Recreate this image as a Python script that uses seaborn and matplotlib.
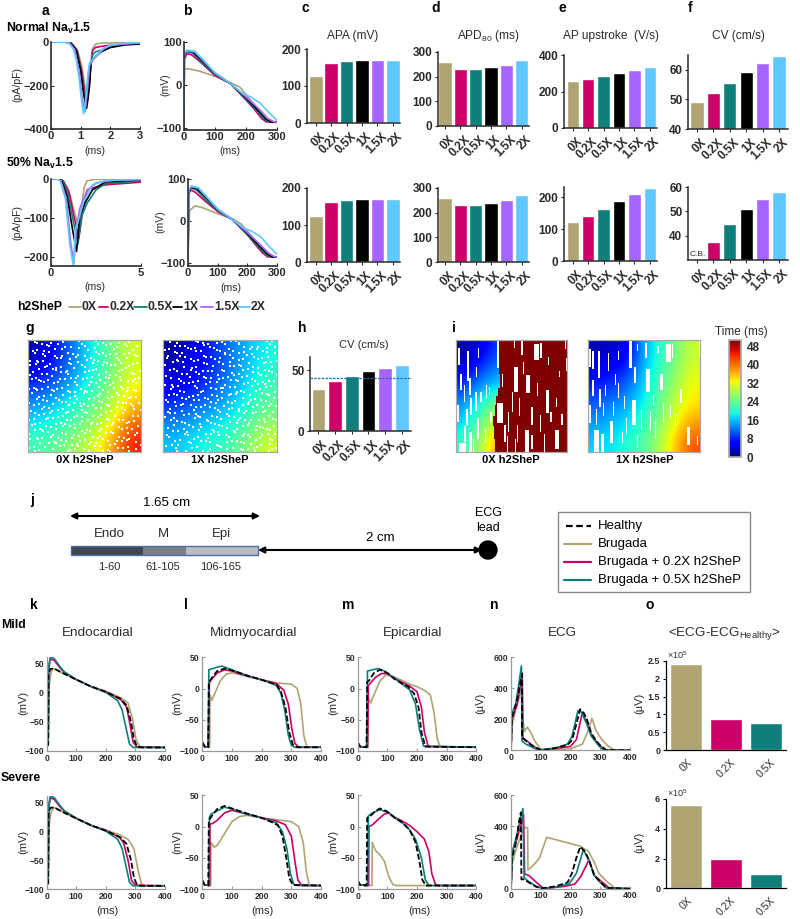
import numpy as np
import matplotlib
matplotlib.use('Agg')
import matplotlib.pyplot as plt
from matplotlib.cm import ScalarMappable
from matplotlib.colors import Normalize
from matplotlib.patches import Rectangle, Ellipse
from matplotlib.transforms import ScaledTranslation
import seaborn as sns

# --- bar data ---
DOSES = ['0X', '0.2X', '0.5X', '1X', '1.5X', '2X']
COLORS = ['#B0A472', '#CC0066', '#0F7F7C', '#000000', '#A864FF', '#5EC8FF']

APA_NORMAL = [128, 162, 168, 170, 171, 171]
APA_HALF = [124, 162, 168, 170, 171, 171]
APD_NORMAL = [258, 230, 232, 240, 248, 267]
APD_HALF = [260, 233, 233, 240, 252, 272]
UPSTROKE_NORMAL = [256, 271, 284, 302, 320, 335]
UPSTROKE_HALF = [123, 142, 163, 189, 212, 231]
CV_NORMAL = [49, 52.3, 55.5, 59.3, 62.3, 64.5]
CV_HALF = [np.nan, 37.4, 44.8, 51, 55, 58]
CV_TISSUE = [34.3, 41, 45, 49, 52, 54.3]
CV_TISSUE_REF = 43.8

ECG_DOSES = ['0X', '0.2X', '0.5X']
ECG_COLORS = COLORS[:3]
ECG_DIFF_MILD = [2.416, 0.864, 0.762]
ECG_DIFF_SEVERE = [5.6, 1.97, 0.985]

# --- panel a: sodium current, (ms, pA/pF) ---
A_TOP_0X = [(0, 0), (.5, 0), (.7, -5), (.9, -40), (1.05, -120), (1.2, -250), (1.25, -265), (1.33, -120), (1.4, -30), (1.5, -10), (1.7, -5), (3, -2)]
A_TOP_02X = [(0, 0), (.48, 0), (.68, -5), (.88, -40), (1.03, -130), (1.17, -260), (1.22, -285), (1.33, -130), (1.4, -40), (1.5, -25), (1.7, -20), (2, -15), (3, -6)]
A_TOP_05X = [(0, 0), (.46, 0), (.66, -5), (.86, -38), (1.01, -130), (1.15, -270), (1.2, -295), (1.32, -130), (1.4, -60), (1.5, -45), (1.7, -38), (2, -25), (2.5, -14), (3, -10)]
A_TOP_1X = [(0, 0), (.45, 0), (.65, -5), (.85, -35), (1, -130), (1.1, -240), (1.2, -305), (1.3, -200), (1.35, -90), (1.5, -65), (1.7, -45), (2, -25), (2.5, -12), (3, -8)]
A_TOP_15X = [(0, 0), (.42, 0), (.62, -5), (.8, -35), (.95, -140), (1.05, -260), (1.15, -320), (1.22, -230), (1.3, -110), (1.4, -85), (1.6, -55), (1.8, -30), (2, -15), (3, -4)]
A_TOP_2X = [(0, 0), (.4, 0), (.6, -5), (.75, -30), (.85, -80), (.95, -170), (1.05, -290), (1.1, -330), (1.15, -290), (1.25, -140), (1.3, -95), (1.5, -65), (1.75, -30), (2, -15), (2.5, -5), (3, -3)]

A_BOT_0X = [(0, 0), (.45, 0), (.7, -5), (1, -30), (1.3, -85), (1.55, -125), (1.7, -70), (1.85, -20), (2, -5), (2.4, -1), (5, 0)]
A_BOT_02X = [(0, 0), (.42, 0), (.68, -5), (1, -35), (1.3, -100), (1.55, -150), (1.75, -85), (2, -28), (2.3, -23), (3, -15), (5, -8)]
A_BOT_05X = [(0, 0), (.4, 0), (.65, -5), (.95, -40), (1.25, -110), (1.5, -165), (1.7, -95), (2, -62), (2.5, -28), (3, -12), (5, -5)]
A_BOT_1X = [(0, 0), (.38, 0), (.6, -5), (.9, -45), (1.2, -130), (1.42, -185), (1.6, -95), (1.9, -60), (2.3, -28), (3, -8), (5, -2)]
A_BOT_15X = [(0, 0), (.35, 0), (.55, -5), (.85, -50), (1.1, -165), (1.27, -215), (1.4, -130), (1.6, -75), (2, -30), (2.5, -10), (3.5, -3), (5, -1)]
A_BOT_2X = [(0, 0), (.33, 0), (.52, -5), (.8, -50), (1.05, -170), (1.25, -222), (1.35, -130), (1.5, -110), (1.8, -60), (2.3, -15), (3, -4), (5, -1)]

# --- panel b: action potential, (ms, mV) ---
B_TOP_0X = [(0, -90), (1, 38), (20, 37), (50, 32), (100, 20), (150, 5), (180, -5), (200, -22), (225, -45), (250, -70), (270, -85), (300, -87)]
B_TOP_02X = [(0, -90), (1, 60), (10, 73), (25, 70), (50, 55), (100, 22), (150, 3), (200, -35), (225, -55), (250, -78), (265, -86), (300, -87)]
B_TOP_05X = [(0, -90), (1, 70), (10, 78), (30, 73), (60, 50), (100, 25), (150, 3), (200, -33), (230, -55), (255, -78), (275, -86), (300, -87)]
B_TOP_1X = [(0, -90), (1, 72), (10, 80), (30, 77), (60, 55), (100, 27), (150, 3), (200, -30), (240, -60), (265, -80), (285, -87), (300, -87)]
B_TOP_15X = [(0, -90), (1, 73), (10, 80), (35, 77), (60, 58), (100, 28), (150, 3), (200, -28), (245, -58), (270, -78), (290, -86), (300, -87)]
B_TOP_2X = [(0, -90), (1, 75), (12, 81), (35, 78), (60, 60), (100, 28), (150, 3), (190, -20), (215, -28), (245, -42), (275, -65), (300, -83)]

B_BOT_0X = [(0, -90), (5, 25), (25, 36), (50, 31), (100, 17), (150, 5), (180, -8), (200, -25), (225, -45), (250, -68), (270, -84), (300, -87)]
B_BOT_02X = [(0, -90), (2, 60), (8, 74), (25, 68), (50, 52), (100, 22), (150, 3), (200, -33), (225, -55), (250, -76), (268, -86), (300, -87)]
B_BOT_05X = [(0, -90), (2, 70), (10, 79), (30, 73), (60, 50), (100, 25), (150, 3), (200, -33), (230, -56), (258, -78), (278, -86), (300, -87)]
B_BOT_1X = [(0, -90), (2, 72), (10, 80), (30, 77), (60, 56), (100, 27), (150, 3), (200, -30), (240, -60), (265, -78), (285, -87), (300, -87)]
B_BOT_15X = [(0, -90), (2, 73), (10, 82), (35, 78), (60, 59), (100, 28), (150, 3), (200, -28), (245, -58), (270, -76), (292, -86), (300, -87)]
B_BOT_2X = [(0, -90), (2, 75), (12, 83), (35, 79), (60, 60), (100, 28), (150, 3), (190, -18), (215, -25), (245, -38), (275, -62), (300, -80)]

# --- panels k-n: transmural wedge traces, (ms, mV or uV) ---
K_MILD_H = [(0, -90), (5, -90), (6, 30), (12, 40), (25, 41), (50, 34), (100, 22), (150, 10), (200, 1), (250, -11), (270, -22), (285, -50), (295, -80), (305, -92), (320, -94), (400, -94)]
K_MILD_B = [(0, -90), (5, -90), (8, 10), (15, 35), (22, 41), (50, 34), (100, 22), (150, 10), (200, 2), (250, -9), (275, -18), (290, -45), (302, -80), (315, -93), (400, -94)]
K_MILD_02 = [(0, -90), (5, -90), (7, 40), (12, 57), (25, 55), (45, 42), (60, 34), (100, 22), (150, 10), (200, 1), (250, -12), (270, -25), (282, -55), (292, -85), (305, -93), (400, -94)]
K_MILD_05 = [(0, -90), (5, -90), (7, 45), (12, 60), (25, 58), (45, 44), (60, 35), (100, 22), (150, 10), (200, 0), (240, -14), (255, -30), (268, -60), (280, -88), (292, -94), (400, -94)]
K_SEV_H = K_MILD_H
K_SEV_B = [(0, -90), (5, -90), (8, 10), (15, 33), (25, 41), (50, 34), (100, 22), (150, 10), (200, 2), (250, -7), (275, -14), (295, -30), (308, -65), (320, -90), (330, -94), (400, -94)]
K_SEV_02 = [(0, -90), (5, -90), (7, 40), (12, 57), (25, 55), (45, 42), (60, 34), (100, 22), (150, 10), (200, 1), (245, -10), (260, -20), (275, -50), (287, -85), (300, -93), (400, -94)]
K_SEV_05 = K_MILD_05

L_MILD_H = [(0, -86), (8, -93), (20, -94), (22, 10), (32, 17), (50, 28), (75, 32), (100, 29), (150, 21), (200, 14), (250, 6), (265, -5), (280, -30), (293, -70), (305, -90), (320, -94), (400, -94)]
L_MILD_B = [(0, -86), (8, -93), (25, -94), (26, -10), (32, -19), (45, -5), (60, 12), (80, 23), (100, 25), (150, 20), (200, 14), (250, 9), (300, 7), (320, 0), (332, -25), (342, -75), (352, -93), (365, -94), (400, -94)]
L_MILD_02 = [(0, -86), (8, -93), (20, -94), (24, 10), (32, 15), (50, 25), (75, 30), (100, 28), (150, 20), (200, 14), (250, 8), (275, -3), (290, -25), (302, -65), (312, -88), (325, -94), (400, -94)]
L_MILD_05 = [(0, -86), (8, -93), (20, -94), (22, 30), (35, 32), (65, 36), (100, 30), (150, 21), (200, 14), (250, 5), (265, -8), (278, -35), (290, -75), (300, -91), (312, -94), (400, -94)]
L_SEV_H = [(0, -86), (8, -93), (20, -94), (22, 10), (32, 17), (50, 28), (75, 33), (100, 29), (150, 21), (200, 14), (240, 6), (255, 2), (270, -15), (283, -50), (293, -82), (305, -93), (400, -94)]
L_SEV_B = [(0, -86), (8, -93), (28, -94), (29, -25), (40, -33), (50, -30), (70, -15), (100, 8), (125, 16), (150, 18), (200, 14), (250, 11), (300, 8), (325, 0), (340, -25), (350, -70), (360, -93), (370, -94), (400, -94)]
L_SEV_02 = [(0, -86), (8, -93), (25, -94), (26, 4), (35, 5), (50, 10), (75, 22), (100, 26), (150, 20), (200, 14), (250, 9), (280, 3), (300, -15), (312, -55), (322, -85), (335, -94), (400, -94)]
L_SEV_05 = [(0, -86), (8, -93), (22, -94), (24, 15), (30, 20), (50, 25), (75, 31), (100, 28), (150, 20), (200, 14), (250, 6), (270, -8), (285, -35), (297, -75), (308, -92), (320, -94), (400, -94)]

M_MILD_H = [(0, -86), (8, -93), (30, -94), (32, 10), (40, 14), (55, 25), (75, 30), (100, 25), (125, 15), (150, 8), (170, 3), (190, -8), (205, -30), (215, -70), (228, -93), (400, -94)]
M_MILD_B = [(0, -86), (8, -93), (35, -94), (36, -15), (44, -23), (55, -10), (75, 12), (95, 22), (125, 18), (150, 13), (175, 7), (200, 3), (225, -3), (245, -10), (258, -40), (268, -80), (278, -93), (400, -94)]
M_MILD_02 = [(0, -86), (8, -93), (33, -94), (36, 5), (45, 10), (60, 18), (80, 24), (100, 24), (125, 16), (150, 10), (175, 4), (200, -5), (215, -30), (225, -70), (238, -93), (400, -94)]
M_MILD_05 = [(0, -86), (8, -93), (30, -94), (33, 28), (50, 30), (70, 32), (90, 28), (125, 16), (150, 7), (175, -2), (195, -25), (208, -65), (222, -92), (400, -94)]
M_SEV_H = [(0, -86), (8, -93), (30, -94), (32, 14), (45, 18), (60, 25), (75, 29), (100, 24), (125, 14), (150, 7), (175, -5), (195, -25), (208, -55), (218, -85), (230, -94), (400, -94)]
M_SEV_B = [(0, -86), (8, -93), (48, -94), (49, -25), (60, -38), (75, -45), (90, -55), (105, -80), (118, -92), (130, -94), (400, -94)]
M_SEV_02 = [(0, -86), (8, -93), (37, -94), (38, 0), (50, 3), (70, 12), (90, 20), (105, 22), (125, 15), (150, 9), (175, 2), (200, -8), (225, -20), (240, -40), (250, -75), (262, -92), (272, -94), (400, -94)]
M_SEV_05 = [(0, -86), (8, -93), (33, -94), (36, 17), (50, 22), (75, 27), (100, 23), (125, 14), (150, 6), (175, -5), (195, -20), (215, -50), (228, -85), (240, -94), (400, -94)]

N_MILD_H = [(0, 0), (3, 200), (10, 260), (20, 320), (30, 420), (37, 490), (37, 80), (45, 70), (60, 45), (80, 20), (100, 2), (120, 5), (150, 15), (190, 35), (205, 65), (220, 170), (232, 265), (245, 240), (255, 200), (270, 110), (285, 65), (300, 30), (320, 3), (400, 0)]
N_MILD_B = [(0, 0), (5, 180), (15, 260), (28, 340), (37, 420), (40, 220), (44, 120), (55, 150), (65, 120), (80, 60), (100, 5), (130, 2), (200, 10), (240, 40), (258, 120), (272, 205), (285, 130), (305, 70), (325, 30), (345, 3), (400, 0)]
N_MILD_02 = [(0, 0), (3, 200), (20, 290), (35, 460), (38, 500), (40, 80), (60, 50), (80, 20), (100, 2), (150, 12), (200, 25), (220, 70), (240, 245), (255, 180), (270, 100), (290, 50), (310, 10), (320, 2), (400, 0)]
N_MILD_05 = [(0, 0), (3, 240), (15, 290), (28, 450), (35, 545), (37, 60), (50, 40), (75, 15), (95, 2), (150, 15), (190, 40), (205, 90), (225, 255), (235, 250), (255, 170), (270, 90), (295, 30), (310, 3), (400, 0)]
N_SEV_H = [(0, 0), (3, 200), (15, 280), (28, 440), (33, 490), (35, 60), (45, 60), (60, 40), (85, 12), (105, 3), (150, 15), (190, 40), (205, 100), (220, 200), (233, 270), (250, 235), (265, 170), (280, 85), (300, 45), (320, 5), (400, 0)]
N_SEV_B = [(0, 0), (5, 170), (15, 240), (35, 350), (48, 395), (56, 390), (57, 120), (75, 150), (95, 195), (120, 330), (180, 300), (230, 275), (260, 240), (280, 170), (295, 100), (320, 50), (345, 10), (360, 0), (400, 0)]
N_SEV_02 = [(0, 0), (5, 240), (20, 320), (38, 440), (42, 475), (46, 95), (60, 85), (80, 50), (105, 8), (120, 2), (180, 15), (215, 30), (235, 80), (262, 185), (280, 85), (305, 45), (330, 5), (400, 0)]
N_SEV_05 = [(0, 0), (5, 240), (20, 350), (32, 450), (40, 515), (44, 70), (60, 45), (85, 15), (105, 2), (150, 10), (195, 30), (220, 100), (243, 250), (260, 190), (280, 85), (300, 40), (320, 5), (400, 0)]

# --- activation maps: coarse readings of time (ms), top row first ---
MAP_G_0X = [[2, 7, 13, 19, 25, 31], [5, 9, 14, 19, 25, 31], [9, 12, 16, 21, 27, 33],
            [14, 17, 20, 24, 29, 36], [18, 20, 23, 27, 33, 41], [22, 24, 27, 31, 37, 45]]
MAP_G_1X = [[1, 4, 8, 12, 16, 19], [3, 5, 8, 12, 16, 20], [5, 7, 10, 14, 18, 22],
            [9, 11, 13, 16, 20, 24], [13, 15, 17, 19, 23, 27], [16, 18, 20, 22, 26, 31]]
MAP_I_0X = [[1, 3, 6, 9], [4, 7, 10, 13], [9, 12, 15, 17], [14, 18, 22, 26], [17, 21, 26, 31], [21, 25, 31, 38]]
MAP_I_1X = [[2, 3, 5, 15, 20, 25, 30], [5, 6, 8, 16, 21, 26, 31], [8, 9, 12, 17, 23, 28, 33],
            [11, 13, 15, 19, 24, 30, 34], [14, 16, 18, 21, 26, 33, 38], [17, 18, 20, 23, 28, 36, 42]]
# edge of the blocked region in i (0X): percent down the map, percent across
BLOCK_Y = [0, 22, 30, 43, 50, 58, 68, 77, 88, 100]
BLOCK_X = [38, 39, 40, 38, 36, 35, 33, 34, 35, 34]

# white unexcited specks in g, one mask cell per speck
SPECKS = [
    '..##.....#..#.##.....#......##.#......#...#.....',
    '#.....#.##........#....##........#.#.....##...#.',
    '...#.......#..##.....#...#..#.......##......#...',
    '.##...#.#.......#.#.........##.#..#.....#.#.....',
    '......##...##.#.....##..#........#...#.......##.',
    '#..#.........#...#......#.##.#.......##..#......',
    '...##.#..#.......##..#.....#....##.....#....#.#.',
    '.#.....##...#.#........##.......#..#.#.....#....',
    '....#.....##....#..#.....#.##.........##.#.....#',
    '##...#.#.....#.##......#.....#..#.#........##...',
    '...#......#.......#.##...#.#.....##..#.#.......#',
    '.#..##..#...##.#.......#......#........#..#.##..',
    '......#...#.....#..##....##.#...#.##.........#..',
    '#.##....#...#.#.......#.......#.....#..##.#.....',
    '....#.#...##.....##.#...##.#....#.#.......#..##.',
    '.#.......#....#........#.....##......##.#.......',
    '...##.#....#.....#.##....#.#.....#.#......##.#..',
    '#.....#.#....##.#.....#.......##......#.#......#',
    '..#.#.....#......#.#..##.#.#.....##......#.##...',
    '.....##.#...#.#.......#.....#.#......#.#....#..#',
    '.#.#.....##.....##.#....##.......#.#....##......',
    '....#.#.....#.#.....#.#....#.##.....#.......#.#.',
    '#.#....##.#.....#.##.....#.......##...#.#.......',
    '...#.#......#.#.......##...#.#.#....#.....##.#..',
    '.#.....#.#....##.#.#......#......#.#..#.......#.',
    '..#.##.....#.......#..#.#....##........#.#.#....',
    '#.....#.#.....#.#.......#.#......#.##.....#...#.',
    '...#.....##.#.....##.#.....#.##.......#.#....#..',
    '.#..#.#.......#.#.....#.#.......#.#.....#.##....',
    '....#...#.##......#.#....##.#.....#.##.......#.#',
    '#.#....#.....#.#.....#......#.#.......#.#.#.....',
    '..#.#.....#.....##.#...#.#.....#.##.......#..#..',
]
# how far each mask column and row sits off its grid line, in cells
SPECK_DROP = [.4, -.3, .1, .45, -.2, .3, -.45, .2, -.1, .35, -.35, .05, .5, -.25, .15, -.5,
              .3, -.05, .4, -.4, .25, -.15, .45, -.3, .1, .35, -.45, .2, -.2, .5, -.1, .3,
              -.35, .05, .4, -.25, .15, -.5, .35, -.05, .45, -.4, .2, -.15, .3, -.3, .1, .4]
SPECK_SLIDE = [.3, -.4, .15, .45, -.2, .35, -.1, -.45, .25, .5, -.3, .05, .4, -.15, -.5, .2,
               .35, -.25, .1, .45, -.35, .3, -.05, -.4, .25, .5, -.2, .15, -.45, .4, -.1, .3]

# white stripes in i: percent across, top, bottom, width
STRIPES_0X = [(2, 7, 22, 1.5), (10, 10, 37, 1.5), (20, 7, 16, 1), (18, 24, 33, 1), (4, 30, 45, 1.5), (12, 34, 49, 1.5),
              (7, 40, 55, 1), (17, 46, 63, 1.5), (22, 46, 55, 1), (1, 58, 73, 2), (13, 52, 67, 1.5), (27, 40, 52, 1),
              (9, 62, 76, 1.5), (19, 70, 88, 2), (26, 79, 91, 1), (30, 42, 49, 1), (3, 92, 100, 6), (12, 82, 100, 2),
              (15, 88, 100, 1.5), (7, 77, 91, 2), (31, 64, 73, 1), (37, 0, 25, 2), (37, 56, 74, 5), (43, 76, 91, 2),
              (52, 24, 46, 4), (52, 0, 7, 1.5), (59, 0, 13, 1.5), (63, 31, 47, 3.5), (70, 4, 18, 5), (76, 3, 16, 1.5),
              (83, 15, 22, 1), (99, 16, 28, 2), (89, 80, 97, 4), (62, 80, 100, 3.5), (81, 45, 65, 3), (76, 67, 82, 1),
              (68, 60, 76, 1), (50, 46, 64, 1), (55, 76, 91, 1), (47, 64, 82, 1), (68, 85, 97, 1.5), (85, 64, 73, 1.5),
              (93, 28, 33, 1), (92, 85, 96, 1), (98, 0, 8, 1), (41, 30, 42, 1), (57, 52, 68, 1), (73, 38, 50, 1),
              (90, 52, 60, 1), (79, 84, 100, 1), (53, 88, 100, 1), (46, 86, 100, 1), (95, 66, 76, 1), (60, 20, 30, 1)]
STRIPES_1X = [(1, 8, 24, 1.5), (4, 10, 26, 1.5), (9, 10, 34, 1.5), (18, 12, 28, 1), (27, 10, 18, 1), (37, 0, 25, 2),
              (41, 24, 38, 2), (44, 4, 10, 1), (51, 3, 16, 1.5), (52, 26, 46, 3.5), (62, 5, 12, 1), (70, 4, 20, 4),
              (64, 30, 45, 3), (75, 4, 16, 1), (99, 0, 14, 1), (82, 44, 56, 1.5), (4, 36, 50, 1), (10, 44, 60, 1.5),
              (15, 40, 50, 1), (27, 38, 52, 1), (32, 50, 62, 1), (22, 55, 68, 1.5), (1, 58, 74, 2), (13, 56, 68, 1.5),
              (39, 54, 76, 4), (47, 62, 80, 1), (55, 64, 80, 1), (73, 58, 70, 1), (67, 56, 74, 1), (88, 78, 94, 3),
              (5, 80, 100, 5), (12, 84, 100, 2), (20, 72, 92, 2), (30, 82, 92, 1), (60, 72, 88, 1), (97, 86, 94, 1.5),
              (24, 30, 40, 1), (34, 70, 84, 1), (7, 62, 76, 1), (44, 84, 96, 1), (78, 66, 76, 1), (58, 48, 58, 1)]

LEGEND_ROWS = ['Healthy', 'Brugada', 'Brugada + 0.2X h2SheP', 'Brugada + 0.5X h2SheP']

# --- style ---
W, H = 800, 919
sns.set_theme(style='ticks')
plt.rcParams['font.family'] = ['Liberation Sans', 'DejaVu Sans']
plt.rcParams['mathtext.fontset'] = 'custom'
plt.rcParams['mathtext.rm'] = 'Liberation Sans'
plt.rcParams['mathtext.it'] = 'Liberation Sans:italic'
plt.rcParams['mathtext.bf'] = 'Liberation Sans:bold'
plt.rcParams['mathtext.default'] = 'regular'
DARK = '#2b2b2b'

fig = plt.figure(figsize=(W / 100, H / 100), dpi=100)
# overlay in picture pixels, for free text and the tissue sketch
page = fig.add_axes([0, 0, 1, 1], zorder=10)
page.set_xlim(0, W)
page.set_ylim(H, 0)
page.axis('off')


def place(left, top, right, bottom):
    return fig.add_axes([left / W, 1 - bottom / H, (right - left) / W, (bottom - top) / H])


def note(x, y, text, size=8, weight='normal', ha='center', **kw):
    page.text(x, y, text, fontsize=size, fontweight=weight, ha=ha, va='center', color=kw.pop('color', 'black'), **kw)


def style_axis(ax, size, spine_color=DARK, spine_width=1.2, direction='out'):
    sns.despine(ax=ax)
    for side in ('left', 'bottom'):
        ax.spines[side].set_color(spine_color)
        ax.spines[side].set_linewidth(spine_width)
    ax.tick_params(labelsize=size, length=2.5, width=0.8, pad=1.5, color=spine_color,
                   labelcolor=DARK, direction=direction)
    for lab in ax.get_xticklabels() + ax.get_yticklabels():
        lab.set_fontweight('bold')


def draw_traces(ax, traces, colors, lw=1.2):
    for points, color in zip(traces, colors):
        t, v = zip(*points)
        sns.lineplot(x=list(t), y=list(v), color=color, linewidth=lw, sort=False,
                     estimator=None, ax=ax, legend=False)
    ax.set_xlabel('')
    ax.set_ylabel('')


def current_panel(box, traces, xlim, ylim, xticks, yticks, size=8, direction='in'):
    ax = place(*box)
    draw_traces(ax, traces, COLORS)
    ax.set_xlim(*xlim)
    ax.set_ylim(*ylim)
    ax.set_xticks(xticks)
    ax.set_yticks(yticks)
    style_axis(ax, size, direction=direction)
    return ax


def bar_panel(box, values, ylim, yticks, xlim=(-0.57, 5.47), size=8.5, width=0.82):
    ax = place(*box)
    sns.barplot(x=DOSES, y=values, order=DOSES, hue=DOSES, hue_order=DOSES, palette=COLORS,
                width=width, saturation=1, dodge=False, legend=False, ax=ax)
    ax.set_xlim(*xlim)
    ax.set_ylim(*ylim)
    ax.set_yticks(yticks)
    style_axis(ax, size, spine_width=1.1)
    ax.set_xticks(range(len(DOSES)))
    ax.set_xticklabels(DOSES, rotation=45, ha='right', va='top', rotation_mode='anchor',
                       fontsize=size, fontweight='bold', color=DARK)
    ax.tick_params(axis='x', pad=3)
    # the labels end a little to the right of their ticks
    shift = ScaledTranslation(3.5 / 100, 0, fig.dpi_scale_trans)
    for lab in ax.get_xticklabels():
        lab.set_transform(lab.get_transform() + shift)
    return ax


# --- a, b ---
a_top = [A_TOP_0X, A_TOP_02X, A_TOP_05X, A_TOP_1X, A_TOP_15X, A_TOP_2X]
a_bot = [A_BOT_0X, A_BOT_02X, A_BOT_05X, A_BOT_1X, A_BOT_15X, A_BOT_2X]
b_top = [B_TOP_0X, B_TOP_02X, B_TOP_05X, B_TOP_1X, B_TOP_15X, B_TOP_2X]
b_bot = [B_BOT_0X, B_BOT_02X, B_BOT_05X, B_BOT_1X, B_BOT_15X, B_BOT_2X]
current_panel((51, 42, 140, 129), a_top, (0, 3), (-400, 0), [0, 1, 2, 3], [0, -200, -400])
current_panel((51, 179, 141, 266), a_bot, (0, 5), (-222, 0), [0, 5], [0, -100, -200])
current_panel((184, 42, 277, 130), b_top, (0, 300), (-105, 100), [0, 100, 200, 300], [100, 0, -100])
current_panel((188, 179, 277, 266), b_bot, (0, 300), (-108, 100), [0, 100, 200, 300], [100, 0, -100])

for x, y, text, rot in [(17, 85, '(pA/pF)', 90), (95, 151, '(ms)', 0), (17, 222, '(pA/pF)', 90), (95, 287, '(ms)', 0),
                        (165, 85, '(mV)', 90), (230, 151, '(ms)', 0), (160, 222, '(mV)', 90), (231, 288, '(ms)', 0)]:
    note(x, y, text, size=7.6, rotation=rot, color=DARK)

# --- c-f ---
bar_panel((307, 49, 400, 123), APA_NORMAL, (0, 200), [0, 100, 200], width=0.88)
bar_panel((307, 188, 400, 262), APA_HALF, (0, 200), [0, 100, 200], width=0.88)
bar_panel((438, 52, 529, 126), APD_NORMAL, (0, 300), [0, 100, 200, 300], xlim=(-0.45, 5.47), width=0.86)
bar_panel((438, 188, 529, 262), APD_HALF, (0, 300), [0, 100, 200, 300], xlim=(-0.45, 5.47), width=0.86)
bar_panel((564, 55, 657, 128), UPSTROKE_NORMAL, (0, 400), [0, 200, 400], width=0.8)
bar_panel((564, 187, 657, 261), UPSTROKE_HALF, (0, 233), [0, 100, 200], width=0.8)
bar_panel((688, 55, 788, 129), CV_NORMAL, (40, 65), [40, 50, 60], xlim=(-0.55, 5.55), width=0.8)
ax_cv = bar_panel((688, 187, 788, 260), CV_HALF, (30, 60), [40, 50, 60], xlim=(-0.55, 5.55), width=0.8)
note(690, 254, 'C.B.', size=6, ha='left', color=DARK)

note(353, 36, 'APA (mV)', size=8.6, color=DARK)
note(488, 36, r'APD$_{80}$ (ms)', size=8.6, color=DARK)
note(611, 36, 'AP upstroke  (V/s)', size=8.6, color=DARK)
note(738, 36, 'CV (cm/s)', size=8.6, color=DARK)

# --- g, i maps ---
NORM = Normalize(0, 50.6)


def activation_map(box, grid, extent=(0, 100, 100, 0)):
    ax = place(*box)
    ax.imshow(np.array(grid, dtype=float), cmap='jet', norm=NORM, interpolation='bicubic',
              extent=extent, aspect='auto')
    ax.set_xlim(0, 100)
    ax.set_ylim(100, 0)
    ax.set_xticks([])
    ax.set_yticks([])
    for spine in ax.spines.values():
        spine.set_color('#a8a8a8')
        spine.set_linewidth(0.9)
    return ax


def add_specks(ax, rows):
    cells = np.array([[c == '#' for c in row] for row in rows])
    ys, xs = np.nonzero(cells)
    cols = xs + 0.5 + np.array(SPECK_SLIDE)[ys]
    lines = ys + 0.5 + np.array(SPECK_DROP)[xs]
    ax.scatter(cols * 100 / cells.shape[1], lines * 100 / cells.shape[0],
               s=1.0, marker='s', color='white', linewidths=0)


def add_stripes(ax, stripes):
    for x, top, bottom, width in stripes:
        ax.add_patch(Rectangle((x, top), width, bottom - top, color='white', lw=0))


ax = activation_map((28, 340, 141, 452), MAP_G_0X)
add_specks(ax, SPECKS)
ax = activation_map((163, 340, 277, 452), MAP_G_1X)
add_specks(ax, [row[::-1] for row in SPECKS[::-1]])

ax = activation_map((456, 340, 567, 452), MAP_I_0X, extent=(0, 42, 100, 0))
ax.fill_betweenx(BLOCK_Y, BLOCK_X, 100, color='#7f0000', lw=0, step='post')
add_stripes(ax, STRIPES_0X)
ax = activation_map((588, 340, 700, 452), MAP_I_1X)
add_stripes(ax, STRIPES_1X)

for x, y, text in [(85, 460, '0X h2SheP'), (220, 460, '1X h2SheP'), (511, 460, '0X h2SheP'), (645, 460, '1X h2SheP')]:
    note(x, y, text, size=8, weight='bold')

cax = place(729, 340, 741, 457)
cbar = fig.colorbar(ScalarMappable(NORM, 'jet'), cax=cax)
cbar.set_ticks(range(0, 49, 8))
cbar.ax.tick_params(labelsize=8.5, length=0, pad=4, labelcolor=DARK)
for lab in cbar.ax.get_yticklabels():
    lab.set_fontweight('bold')
cbar.outline.set_edgecolor('#a8a8a8')
note(741, 332, 'Time (ms)', size=8.5, color=DARK)

# --- h ---
ax_h = bar_panel((310, 357, 411, 431), CV_TISSUE, (0, 60.8), [0, 50], xlim=(-0.5, 5.55))
ax_h.axhline(CV_TISSUE_REF, color='#1f6fb5', lw=0.9, ls=(0, (2, 1)), zorder=5)
note(364, 345, 'CV (cm/s)', size=8, color=DARK)

# --- j sketch ---
page.annotate('', xy=(70, 516), xytext=(260, 516),
              arrowprops=dict(arrowstyle='<|-|>', color='black', lw=1.5, mutation_scale=9, shrinkA=0, shrinkB=0))
page.annotate('', xy=(258, 550), xytext=(482, 550),
              arrowprops=dict(arrowstyle='<|-|>', color='black', lw=1.5, mutation_scale=9, shrinkA=0, shrinkB=0))
for x0, x1, color in [(71, 143, '#3F4656'), (143, 186, '#7A7F88'), (186, 258, '#B9BCC4')]:
    page.add_patch(Rectangle((x0, 546), x1 - x0, 9, facecolor=color, edgecolor='none'))
page.add_patch(Rectangle((71, 546), 187, 9, fill=False, edgecolor='#4A6FA5', lw=1))
page.add_patch(Ellipse((488, 550), 18, 18, color='black'))
note(167, 503, '1.65 cm', size=9.5)
note(380, 538, '2 cm', size=9.5)
note(488, 513, 'ECG', size=9)
note(488, 528, 'lead', size=9)
for x, top, bottom in [(109, 'Endo', '1-60'), (163, 'M', '61-105'), (221, 'Epi', '106-165')]:
    note(x, 534, top, size=9.5, color=DARK)
    note(x, 567, bottom, size=8, color=DARK)

page.add_patch(Rectangle((558, 512), 192, 80, fill=False, edgecolor='#8a8a8a', lw=1))
for y, text, color, style in zip([526, 544, 562, 580], LEGEND_ROWS,
                                 ['black'] + ECG_COLORS, [(0, (3, 1.6))] + ['-'] * 3):
    page.plot([566 if style != '-' else 564, 591], [y, y], color=color, lw=1.6, ls=style)
    note(598, y, text, size=9.5, ha='left')

# --- k-n ---
TRACE_COLORS = ECG_COLORS + ['black']


def trace_panel(box, traces, ylim, yticks, xticks=(0, 100, 200, 300, 400)):
    ax = place(*box)
    draw_traces(ax, traces[:3], TRACE_COLORS[:3])
    t, v = zip(*traces[3])
    sns.lineplot(x=list(t), y=list(v), color='black', linewidth=1.3, linestyle=(0, (3.2, 1.4)),
                 sort=False, estimator=None, ax=ax, legend=False)
    ax.set_xlabel('')
    ax.set_ylabel('')
    ax.set_xlim(0, 400)
    ax.set_ylim(*ylim)
    ax.set_xticks(list(xticks))
    ax.set_yticks(yticks)
    style_axis(ax, 6.2, spine_color='#9a9a9a', spine_width=0.9, direction='in')
    ax.tick_params(length=2, pad=2)
    return ax


V_TICKS = [-100, -50, 0, 50]
N_TICKS = [0, 200, 400, 600]
trace_panel((46.7, 656.7, 165, 751), [K_MILD_B, K_MILD_02, K_MILD_05, K_MILD_H], (-100, 61), V_TICKS)
trace_panel((46.7, 795.7, 165, 889.3), [K_SEV_B, K_SEV_02, K_SEV_05, K_SEV_H], (-100, 61), V_TICKS)
trace_panel((202.3, 657.3, 321, 751), [L_MILD_B, L_MILD_02, L_MILD_05, L_MILD_H], (-100, 50), V_TICKS)
trace_panel((202.3, 795.3, 321, 889.3), [L_SEV_B, L_SEV_02, L_SEV_05, L_SEV_H], (-100, 50), V_TICKS)
trace_panel((357.7, 657.3, 476.3, 751), [M_MILD_B, M_MILD_02, M_MILD_05, M_MILD_H], (-100, 50), V_TICKS)
trace_panel((357.7, 795.3, 476.3, 889.3), [M_SEV_B, M_SEV_02, M_SEV_05, M_SEV_H], (-100, 50), V_TICKS)
trace_panel((511, 657.3, 630, 750.3), [N_MILD_B, N_MILD_02, N_MILD_05, N_MILD_H], (0, 600), N_TICKS)
trace_panel((511, 795.3, 630, 888.7), [N_SEV_B, N_SEV_02, N_SEV_05, N_SEV_H], (0, 600), N_TICKS)


# --- o ---
def ecg_bars(box, values, ylim, yticks, ticklabels):
    ax = place(*box)
    sns.barplot(x=ECG_DOSES, y=values, order=ECG_DOSES, hue=ECG_DOSES, hue_order=ECG_DOSES,
                palette=ECG_COLORS, width=0.81, saturation=1, dodge=False, legend=False, ax=ax)
    ax.set_xlim(-0.51, 2.5)
    ax.set_ylim(*ylim)
    ax.set_yticks(yticks)
    ax.set_yticklabels(ticklabels)
    style_axis(ax, 6.5, spine_color='black', spine_width=0.9)
    ax.set_xticks(range(3))
    ax.set_xticklabels(ECG_DOSES, rotation=45, ha='center', va='top',
                       fontsize=7.5, fontweight='normal', color=DARK)
    ax.tick_params(axis='x', length=0, pad=5)
    return ax


ecg_bars((665.7, 660.7, 785.7, 750.3), ECG_DIFF_MILD, (0, 2.5), [0, .5, 1, 1.5, 2, 2.5], ['0', '0.5', '1', '1.5', '2', '2.5'])
ecg_bars((665.7, 799, 785.7, 888.3), ECG_DIFF_SEVERE, (0, 6), [0, 2, 4, 6], ['0', '2', '4', '6'])
note(667, 655, r'$\times10^{5}$', size=6.5, ha='left', color=DARK)
note(667, 793, r'$\times10^{5}$', size=6.5, ha='left', color=DARK)

for x, text in [(98, 'Endocardial'), (254, 'Midmyocardial'), (413, 'Epicardial'), (562, 'ECG')]:
    note(x, 633, text, size=9.7, color=DARK)
note(724, 633, r'<ECG-ECG$_{Healthy}$>', size=9.7, color=DARK)

for x, text in [(23, '(mV)'), (177, '(mV)'), (333, '(mV)'), (480, '(µV)'), (639, '(µV)')]:
    note(x, 703, text, size=8, rotation=90, color=DARK)
    note(x, 842, text, size=8, rotation=90, color=DARK)
for x in (107, 262, 419, 572):
    note(x, 911, '(ms)', size=8, color=DARK)

# --- row names and panel letters ---
note(6, 28, r'Normal Na$_{\mathbf{v}}$1.5', size=8.8, weight='bold', ha='left')
note(6, 163, r'50% Na$_{\mathbf{v}}$1.5', size=8.8, weight='bold', ha='left')
note(1, 625, 'Mild', size=8.8, weight='bold', ha='left')
note(1, 778, 'Severe', size=8.8, weight='bold', ha='left')

for x, y, letter in [(45, 11, 'a'), (187, 11, 'b'), (305, 8, 'c'), (436, 8, 'd'), (562, 8, 'e'), (690, 8, 'f'),
                     (30, 328, 'g'), (302, 328, 'h'), (454, 328, 'i'), (32, 500, 'j'), (34, 605, 'k'),
                     (186, 605, 'l'), (348, 605, 'm'), (494, 605, 'n'), (650, 605, 'o')]:
    note(x, y, letter, size=10, weight='bold')

# --- dose legend under a, b ---
note(17, 307, 'h2SheP', size=8.8, weight='bold', ha='left')
for x0, x1, dose, color in zip([69, 99, 134, 173, 201, 238], [81, 108, 147, 182, 213, 250], DOSES, COLORS):
    page.plot([x0, x1], [307, 307], color=color, lw=1.3)
    note(x1 + 1, 307, dose, size=8.8, weight='bold', ha='left', color=DARK)

fig.savefig('out.png', dpi=100)
